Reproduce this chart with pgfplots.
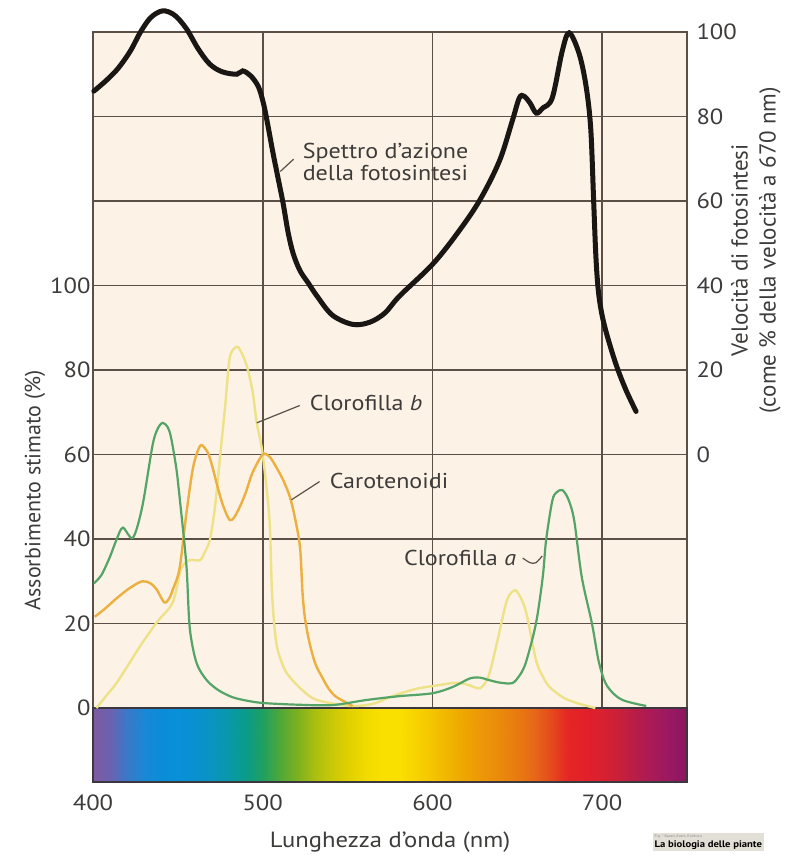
\documentclass[border=0pt]{standalone}
\usepackage{fontspec}
\setmainfont{PT Sans}[FakeStretch=1.12]
\newfontfamily\rotfont{PT Sans}
\usepackage{pgfplots}
\pgfplotsset{compat=1.18}
\definecolor{bgc}{RGB}{252,242,230}
\definecolor{gridc}{RGB}{92,80,70}
\definecolor{txtc}{RGB}{62,60,58}
\definecolor{chla}{RGB}{84,164,104}
\definecolor{chlb}{RGB}{238,226,136}
\definecolor{caro}{RGB}{236,176,64}
\definecolor{blk}{RGB}{25,22,20}
\definecolor{baredge}{RGB}{60,55,60}
\definecolor{wmc}{RGB}{226,223,214}

\begin{document}
\begin{tikzpicture}
\begin{axis}[
  scale only axis, width=594pt, height=750pt,
  xmin=400, xmax=750, ymin=-17.5, ymax=160,
  axis background/.style={fill=bgc},
  xtick={400,500,600,700},
  ytick={0,20,40,60,80,100,120,140},
  yticklabels={0,20,40,60,80,100,{},{}},
  grid=major, major grid style={draw=gridc, line width=1.6pt},
  axis line style={draw=gridc, line width=1.6pt},
  major tick length=0pt,
  tick label style={font=\fontsize{22}{26}\selectfont, text=txtc},
  /pgf/number format/assume math mode=true,
  xticklabel style={yshift=-9pt},
  yticklabel style={xshift=1pt},
  clip=false,
  colormap={spec}{
    rgb255=(126,90,160) rgb255=(106,98,176) rgb255=(58,120,200) rgb255=(26,136,213)
    rgb255=(10,140,216) rgb255=(8,144,216) rgb255=(8,144,208) rgb255=(10,148,192)
    rgb255=(8,152,168) rgb255=(10,156,136) rgb255=(32,160,96) rgb255=(80,168,56)
    rgb255=(124,176,32) rgb255=(168,190,16) rgb255=(200,200,8) rgb255=(224,208,0)
    rgb255=(240,218,0) rgb255=(250,224,0) rgb255=(250,224,0) rgb255=(248,212,0)
    rgb255=(244,196,0) rgb255=(240,180,0) rgb255=(238,164,0) rgb255=(236,150,8)
    rgb255=(234,138,12) rgb255=(232,122,16) rgb255=(230,104,24) rgb255=(228,74,28)
    rgb255=(228,38,38) rgb255=(226,32,42) rgb255=(216,32,48) rgb255=(200,32,58)
    rgb255=(184,28,72) rgb255=(168,26,88) rgb255=(154,24,98) rgb255=(138,22,96)
  },
  point meta min=400, point meta max=750,
  xlabel={Lunghezza d'onda (nm)},
  xlabel style={at={(axis description cs:0.5,-0.08)}, anchor=center, font=\fontsize{22}{26}\selectfont, text=txtc},
  ylabel={\rotfont Assorbimento stimato (\%)},
  ylabel style={at={(axis description cs:-0.0976,0.389)}, anchor=center, rotate=0, font=\fontsize{22}{26}\selectfont, text=txtc},
]
% spectrum bar
\addplot[surf, shader=interp, point meta=x, mesh/cols=36] table[x=x, y=y] {
x y
400 -17.5
410 -17.5
420 -17.5
430 -17.5
440 -17.5
450 -17.5
460 -17.5
470 -17.5
480 -17.5
490 -17.5
500 -17.5
510 -17.5
520 -17.5
530 -17.5
540 -17.5
550 -17.5
560 -17.5
570 -17.5
580 -17.5
590 -17.5
600 -17.5
610 -17.5
620 -17.5
630 -17.5
640 -17.5
650 -17.5
660 -17.5
670 -17.5
680 -17.5
690 -17.5
700 -17.5
710 -17.5
720 -17.5
730 -17.5
740 -17.5
750 -17.5

400 0
410 0
420 0
430 0
440 0
450 0
460 0
470 0
480 0
490 0
500 0
510 0
520 0
530 0
540 0
550 0
560 0
570 0
580 0
590 0
600 0
610 0
620 0
630 0
640 0
650 0
660 0
670 0
680 0
690 0
700 0
710 0
720 0
730 0
740 0
750 0
};
\draw[baredge, line width=1.6pt] (axis cs:400,-17.5) rectangle (axis cs:750,0);

% Clorofilla b
\addplot[chlb, line width=2.4pt, smooth, tension=0.5] coordinates {
(402,0) (407,2.5) (414,6) (422,11) (429,15.4) (438,20.5) (447,25) (452,33)
(457,35) (463,35) (466,37) (469,40) (472,48) (475,60) (478,72) (480.6,83)
(484.7,85.5) (487,84.5) (490.6,81) (494,75) (496.5,67.5) (500,60) (504,44.5)
(505.5,27) (508,15.4) (512,10) (516,7.3) (524,4) (532,1.9) (551,0.5) (565,1)
(575,2.6) (590,4.5) (605,5.5) (614,6) (621,5.5) (628,4.7) (633,7.5) (638,15.4)
(643.5,25) (647,27.5) (650,27.5) (655,23) (661,11.4) (665,7.5) (669,5)
(677,2.5) (685,1.2) (696,0)
};
% Carotenoidi
\addplot[caro, line width=2.4pt, smooth, tension=0.5] coordinates {
(401,21.6) (407,23.5) (414,26) (422,28.5) (429,30) (434,29.5) (437.6,28)
(442,25) (445,26) (447,28) (451,33) (455,46) (459,57) (463,62) (466,61.5)
(469,59) (475,50) (478,46.5) (480.6,44.5) (483,45) (486.5,47.6) (490,51)
(494,55.7) (500,60) (504,59.5) (508,57) (512,54) (516,50) (519,45) (522,38)
(523.5,27) (525,21) (527.6,15.4) (531,10.5) (535,7.3) (539,4.5) (543.5,2.6)
(553,0.5)
};
% Clorofilla a
\addplot[chla, line width=2.2pt, smooth, tension=0.5] coordinates {
(400.5,29.5) (405,31.5) (410,35.8) (414,40) (417.6,42.7) (423.5,40.3)
(429,47.6) (435,62) (438,66) (441,67.5) (444,66.5) (446,64) (449,57)
(451,50) (455,34) (457,19) (461,10.7) (467,6.6) (474,4.2) (482,2.6)
(490,1.8) (500,1.2) (520,0.8) (541,0.7) (561,1.9) (580,2.8) (600,3.5)
(612,5) (622,7) (628,7.2) (633.5,6.6) (640,6) (647,5.9) (651,7.5) (655,10.7)
(661,20) (665,31) (667,39.8) (670.6,49) (673,51) (676.5,51.6) (680,49.5)
(683.5,44.5) (688,31) (694,20) (698,11) (702,5.9) (707,3.3) (712,1.9)
(720,1) (726,0.5)
};

% annotations
\begin{scope}[font=\fontsize{21.5}{25}\selectfont, text=txtc]
\node[anchor=west, align=left, inner sep=0pt] at (axis cs:523.5,129.2) {Spettro d'azione\\[-3pt]della fotosintesi};
\draw[gridc, line width=1.2pt] (axis cs:510.4,127.0) -- (axis cs:518.2,129.9);
\node[anchor=west, inner sep=0pt] at (axis cs:527.6,72.3) {Clorofilla \textit{b}};
\draw[gridc, line width=1.2pt] (axis cs:496.5,67.5) -- (axis cs:521.8,71.6);
\node[anchor=west, inner sep=0pt] at (axis cs:539.4,53.8) {Carotenoidi};
\draw[gridc, line width=1.2pt] (axis cs:517,49.3) -- (axis cs:533.5,53.6);
\node[anchor=west, inner sep=0pt] at (axis cs:583.2,35.5) {Clorofilla \textit{a}};
\draw[gridc, line width=1.2pt] plot[smooth] coordinates {(axis cs:653.2,35.5) (axis cs:657.5,34.4) (axis cs:661,34.4) (axis cs:664.7,36)};
\end{scope}

\coordinate (bl) at (rel axis cs:0,0);
\coordinate (tr) at (rel axis cs:1,1);
\end{axis}

\begin{axis}[
  scale only axis, width=594pt, height=750pt,
  xmin=400, xmax=750, ymin=-77.5, ymax=100,
  hide x axis, axis y line*=right, y axis line style={draw=none},
  ytick={0,20,40,60,80,100},
  major tick length=0pt,
  tick label style={font=\fontsize{22}{26}\selectfont, text=txtc},
  /pgf/number format/assume math mode=true,
  yticklabel style={xshift=6pt},
  clip=false,
]
\addplot[blk, line width=5pt, smooth, tension=0.55, line cap=round] coordinates {
(400.5,86) (408,88.6) (415,91.5) (422,95.5) (428,100) (434,103.4)
(441,105) (448,104) (455,100.8) (462,96) (468.8,92.4) (476,90.6)
(484.7,90) (488.2,90.8) (493,89.6) (497.5,87) (500.5,83) (503,78)
(506,71.5) (509,65.5) (512,59.5) (515,52.5) (518,47.5) (522,43.5)
(527,40.5) (532,37.5) (541,33) (553,30.8) (563,31.3) (572,33.5)
(580.6,37.5) (600,45) (614,52) (627.6,60) (639.4,69.4)
(647,78.9) (651.2,84.4) (654,84.8) (657.5,83.2) (661.2,80.8) (665,82)
(670.6,84.4) (676.5,95.5) (680.6,99.8) (686.5,94.8) (690.6,87) (693.3,77)
(695,60) (696.3,47) (697.7,39) (699.7,33.5) (702.7,28.5) (708.2,21.3) (714,15.3) (720,10.2)
};
\node[rotate=90, align=center, font=\fontsize{23}{28}\selectfont\rotfont, text=txtc] at (axis description cs:1.116,0.709) {Velocità di fotosintesi\\(come \% della velocità a 670 nm)};
\end{axis}

\node[anchor=north west, fill=wmc, inner sep=1.5pt, align=left, text=black] at ([shift={(560pt,-51pt)}]bl)
  {{\fontsize{3.5}{4}\selectfont\color{black!50} Fig. * Raven, Evert, Eichhorn}\\[-2pt]{\fontsize{9.5}{11}\selectfont\bfseries La biologia delle piante}};

\pgfresetboundingbox
\path ([shift={(-93pt,-73pt)}]bl) rectangle ([shift={(101pt,32pt)}]tr);
\end{tikzpicture}
\end{document}
